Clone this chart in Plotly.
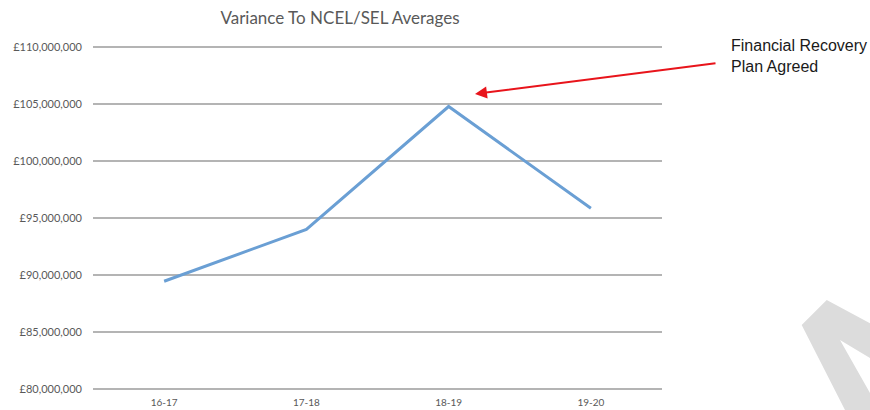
import plotly.graph_objects as go

# Financial years and the variance to the NCEL/SEL averages (GBP)
years = ["16-17", "17-18", "18-19", "19-20"]
variance = [89_450_000, 94_000_000, 104_780_000, 95_850_000]

y_ticks = [80_000_000, 85_000_000, 90_000_000, 95_000_000,
           100_000_000, 105_000_000, 110_000_000]
y_tick_text = ["£{:,}".format(v) for v in y_ticks]
y_lo, y_hi = y_ticks[0], y_ticks[-1]

W, H = 870, 410
L, R, T, B = 93, 208, 47, 21
plot_w, plot_h = W - L - R, H - T - B
GRID = "#B4B4B4"


def px_to_paper(px, py):
    return (px - L) / plot_w, (H - B - py) / plot_h


fig = go.Figure()
fig.add_trace(go.Scatter(
    x=years, y=variance, mode="lines",
    line=dict(color="#6A9FD4", width=3),
    hoverinfo="x+y",
))

# Gridlines on the two range edges (plotly skips those); paper refs avoid clipping
for v in (y_lo, y_hi):
    f = (v - y_lo) / (y_hi - y_lo)
    fig.add_shape(type="line", xref="paper", yref="paper", x0=0, x1=1, y0=f, y1=f,
                  line=dict(color=GRID, width=2), layer="below")

# Grey diagonal mark in the lower-right corner
corner_pts = [(826.7, 300), (870, 323.3), (870, 358), (840, 340),
              (870, 393), (870, 410), (845, 410), (801.7, 325)]
path = "M " + " L ".join(
    "{:.4f},{:.4f}".format(*px_to_paper(x, y)) for x, y in corner_pts) + " Z"
fig.add_shape(type="path", path=path, xref="paper", yref="paper",
              fillcolor="#DCDCDC", line=dict(width=0), layer="below")

# Red arrow pointing at the peak year
hx, hy = px_to_paper(475, 94)
fig.add_annotation(x=hx, y=hy, xref="paper", yref="paper", text="",
                   showarrow=True, arrowhead=2, arrowsize=1.2, arrowwidth=2,
                   arrowcolor="#E8141B", ax=717 - 475, ay=63 - 94,
                   axref="pixel", ayref="pixel")
tx, ty = px_to_paper(729, 56)
fig.add_annotation(x=tx, y=ty, xref="paper", yref="paper",
                   text="Financial Recovery<br>Plan Agreed",
                   showarrow=False, xanchor="left", yanchor="middle", align="left",
                   font=dict(family="Liberation Sans, Arial", size=16, color="#1A1A1A"))

fig.update_layout(
    width=W, height=H,
    margin=dict(l=L, r=R, t=T, b=B, pad=0, autoexpand=False),
    paper_bgcolor="white", plot_bgcolor="white",
    showlegend=False,
    title=dict(text="Variance To NCEL/SEL Averages",
               x=340 / W, xref="container", xanchor="center",
               y=1 - 18 / H, yref="container", yanchor="middle",
               font=dict(family="Lato, Open Sans", size=17, color="#595959")),
    font=dict(family="Lato, Open Sans", color="#595959"),
)
fig.update_xaxes(type="category", range=[-0.5, 3.5], automargin=False,
                 showgrid=False, showline=False, zeroline=False,
                 ticks="", tickfont=dict(size=10, color="#595959"),
                 ticklabelstandoff=6)
fig.update_yaxes(range=[y_lo, y_hi], tickvals=y_ticks, automargin=False,
                 ticktext=y_tick_text, showgrid=True, gridcolor=GRID,
                 gridwidth=2, zeroline=False, showline=False, ticks="",
                 tickfont=dict(size=11, color="#595959"), ticklabelstandoff=10)

fig.write_html("out.html")
